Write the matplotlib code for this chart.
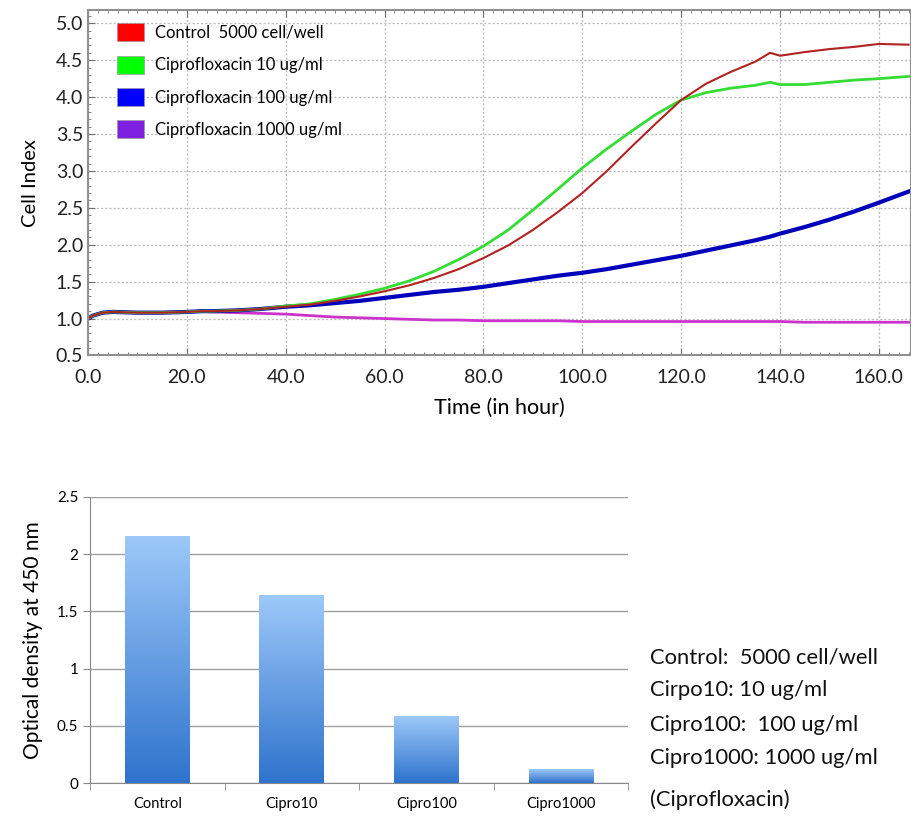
import numpy as np
import matplotlib.pyplot as plt
from matplotlib.patches import Patch
from matplotlib.ticker import MultipleLocator
from matplotlib.colors import LinearSegmentedColormap

plt.rcParams['font.family'] = ['Lato', 'DejaVu Sans']

hours = [0, 1, 3, 5, 10, 15, 20, 23, 25, 30, 35, 40, 45, 50, 55, 60, 65, 70, 75, 80,
         85, 90, 95, 100, 105, 110, 115, 120, 125, 130, 135, 138, 140, 145, 150, 155, 160, 166]
control = [1.0, 1.04, 1.08, 1.09, 1.08, 1.08, 1.09, 1.1, 1.1, 1.11, 1.13, 1.16, 1.19, 1.24, 1.3, 1.37, 1.45, 1.55, 1.67, 1.82,
           1.99, 2.2, 2.44, 2.7, 3.0, 3.33, 3.65, 3.96, 4.18, 4.34, 4.48, 4.6, 4.56, 4.61, 4.65, 4.68, 4.72, 4.71]
cipro10 = [1.0, 1.04, 1.08, 1.09, 1.08, 1.08, 1.09, 1.1, 1.1, 1.11, 1.13, 1.17, 1.2, 1.26, 1.33, 1.41, 1.51, 1.64, 1.8, 1.98,
           2.2, 2.47, 2.75, 3.04, 3.3, 3.54, 3.77, 3.96, 4.06, 4.12, 4.16, 4.2, 4.17, 4.17, 4.2, 4.23, 4.25, 4.28]
cipro100 = [1.0, 1.04, 1.08, 1.09, 1.08, 1.08, 1.09, 1.1, 1.1, 1.11, 1.13, 1.16, 1.18, 1.21, 1.24, 1.28, 1.32, 1.36, 1.39, 1.43,
            1.48, 1.53, 1.58, 1.62, 1.67, 1.73, 1.79, 1.85, 1.92, 1.99, 2.06, 2.11, 2.15, 2.24, 2.34, 2.45, 2.57, 2.72]
cipro1000 = [1.0, 1.04, 1.08, 1.09, 1.08, 1.08, 1.09, 1.1, 1.09, 1.08, 1.07, 1.06, 1.04, 1.02, 1.01, 1.0, 0.99, 0.98, 0.98, 0.97,
             0.97, 0.97, 0.97, 0.96, 0.96, 0.96, 0.96, 0.96, 0.96, 0.96, 0.96, 0.96, 0.96, 0.95, 0.95, 0.95, 0.95, 0.95]

legend_labels = ['Control  5000 cell/well', 'Ciprofloxacin 10 ug/ml',
                 'Ciprofloxacin 100 ug/ml', 'Ciprofloxacin 1000 ug/ml']

# --- end-point optical density ---
groups = ['Control', 'Cipro10', 'Cipro100', 'Cipro1000']
od450 = [2.16, 1.64, 0.59, 0.12]

notes = ['Control:  5000 cell/well', 'Cirpo10: 10 ug/ml', 'Cipro100:  100 ug/ml',
         'Cipro1000: 1000 ug/ml', '(Ciprofloxacin)']

fig = plt.figure(figsize=(9.11, 8.17), dpi=100)

# top panel
ax1 = fig.add_axes([0.0966, 0.5649, 0.9034, 0.4229])
ax1.plot(hours, cipro1000, color='#cc33cc', lw=2)
ax1.plot(hours, cipro100, color='#0000bb', lw=3)
ax1.plot(hours, cipro10, color='#33dd33', lw=2)
ax1.plot(hours, control, color='#b22222', lw=1.5)
ax1.set_xlim(0, 166.5)
ax1.set_ylim(0.5, 5.18)
ax1.xaxis.set_major_locator(MultipleLocator(20))
ax1.xaxis.set_minor_locator(MultipleLocator(2))
ax1.yaxis.set_major_locator(MultipleLocator(0.5))
ax1.yaxis.set_minor_locator(MultipleLocator(0.1))
ax1.xaxis.set_major_formatter(lambda v, p: f'{v:.1f}')
ax1.yaxis.set_major_formatter(lambda v, p: f'{v:.1f}')
ax1.tick_params(which='both', direction='in', top=True, colors='#707070',
                labelcolor='#222222', labelsize=14)
ax1.tick_params(which='major', length=5)
ax1.tick_params(which='minor', length=2.5)
ax1.tick_params(axis='x', pad=10)
for s in ax1.spines.values():
    s.set_color('#909090')
    s.set_linewidth(1.5)
ax1.grid(True, which='major', ls=(0, (1.5, 1.5)), color='#bdbdbd', lw=1.0)
ax1.set_axisbelow(True)
ax1.set_xlabel('Time (in hour)', fontsize=15.5, labelpad=8)
ax1.set_ylabel('Cell Index', fontsize=14.5, labelpad=12)
handles = [Patch(facecolor=c, edgecolor='#999999', lw=0.5)
           for c in ['#ff0000', '#00ff00', '#0000ff', '#7f1fdf']]
ax1.legend(handles, legend_labels, loc='upper left', frameon=False, fontsize=12,
           handlelength=1.6, handleheight=1.3, labelspacing=0.85,
           bbox_to_anchor=(0.017, 1.005), handletextpad=0.7)

# bottom panel
ax2 = fig.add_axes([0.0988, 0.0416, 0.5906, 0.3501])
xpos = np.arange(len(groups))
bars = ax2.bar(xpos, od450, width=0.48, color='none', zorder=3)
grad = np.linspace(0, 1, 256).reshape(-1, 1)
cmap = LinearSegmentedColormap.from_list('g', ['#2f73cc', '#9dc9f9'])
for b in bars:
    im = ax2.imshow(grad, cmap=cmap, origin='lower', aspect='auto', zorder=3,
                    extent=[b.get_x(), b.get_x() + b.get_width(), 0, b.get_height()])
    im.set_clip_path(b)
ax2.set_xlim(-0.5, len(groups) - 0.5)
ax2.set_ylim(0, 2.5)
ax2.set_xticks(xpos)
ax2.set_xticklabels(groups, fontsize=10.5)
ax2.set_xticks(np.arange(len(groups) + 1) - 0.5, minor=True)
ax2.tick_params(axis='x', which='major', length=0, pad=10)
ax2.tick_params(axis='x', which='minor', length=5, color='#888888')
ax2.set_yticks([0, 0.5, 1, 1.5, 2, 2.5])
ax2.set_yticklabels(['0', '0.5', '1', '1.5', '2', '2.5'], fontsize=11)
ax2.tick_params(axis='y', length=5, color='#888888')
ax2.grid(True, axis='y', color='#a0a0a0', lw=1, zorder=0)
ax2.set_axisbelow(True)
for k in ['top', 'right']:
    ax2.spines[k].set_visible(False)
for k in ['left', 'bottom']:
    ax2.spines[k].set_color('#888888')
ax2.set_ylabel('Optical density at 450 nm', fontsize=15, labelpad=10)

ys = [658, 690, 725, 758, 800]
for t, y in zip(notes, ys):
    fig.text(650 / 911, 1 - y / 817, t, fontsize=15.8, va='center', ha='left', color='#111111')

fig.savefig('out.png', dpi=100)
